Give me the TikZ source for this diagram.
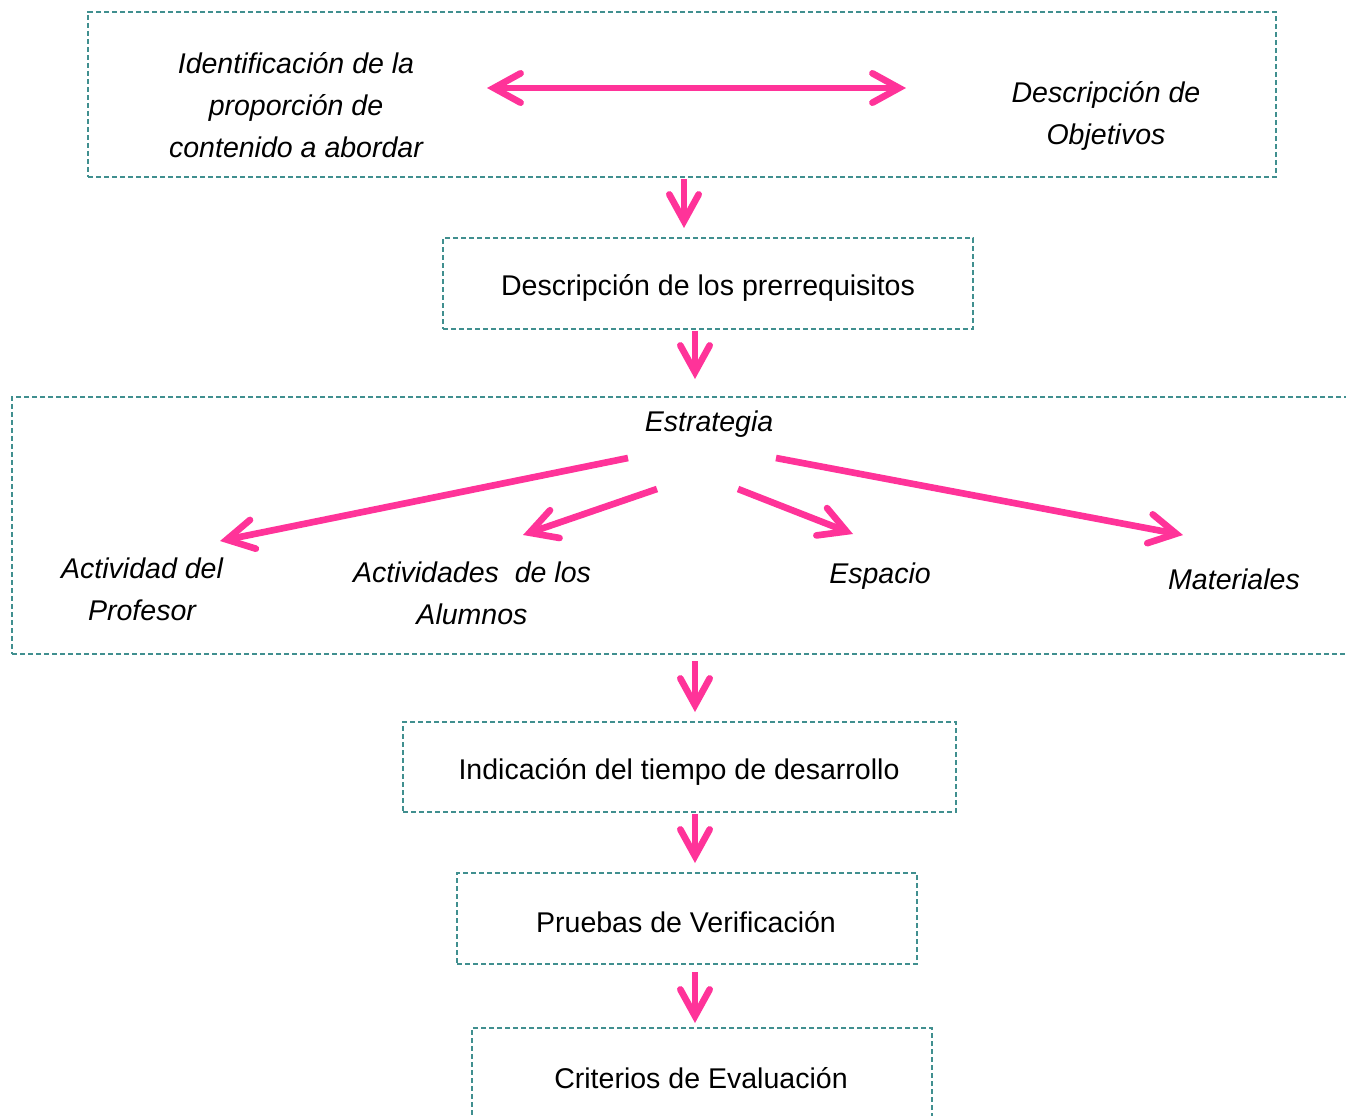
\documentclass[tikz,border=0pt]{standalone}
\usepackage{fontspec}
\setmainfont{Liberation Sans}
\usetikzlibrary{arrows.meta}
\definecolor{pinkarrow}{RGB}{255,51,153}
\definecolor{tealdash}{RGB}{64,143,143}
\tikzset{
  px/.style={x=0.75pt,y=-0.75pt},
  dbox/.style={draw=tealdash,line width=1.1pt,dash pattern=on 3.8pt off 2.2pt,inner sep=0pt},
  lbl/.style={font=\fontsize{21.4pt}{31.5pt}\selectfont,align=center,inner sep=0pt},
  ilbl/.style={lbl,font=\fontsize{21.4pt}{31.5pt}\selectfont\itshape},
  pinktip/.tip={Straight Barb[length=20pt,width=22pt,line cap=round,line join=miter]},
  parrow/.style={draw=pinkarrow,line width=5pt,-pinktip},
  pdarrow/.style={draw=pinkarrow,line width=5pt,pinktip-pinktip}
}
\begin{document}
\begin{tikzpicture}[px]
\useasboundingbox (0,0) rectangle (1346,1115);
\clip (0,0) rectangle (1346,1115);
% boxes
\node[dbox,minimum width=891pt,minimum height=123.75pt] (b1) at (682,94.5) {};
\node[dbox,minimum width=397.5pt,minimum height=68.25pt] (b2) at (708,283.5) {};
\node[dbox,minimum width=1011pt,minimum height=192.75pt] (b3) at (686,525.5) {};
\node[dbox,minimum width=414.75pt,minimum height=67.5pt] (b4) at (679.5,767) {};
\node[dbox,minimum width=345pt,minimum height=68.25pt] (b5) at (687,918.5) {};
\node[dbox,minimum width=345pt,minimum height=76.5pt] (b6) at (702,1079) {};
% texts
\node[ilbl] (t1) at (296,105) {Identificación de la\\proporción de\\contenido a abordar};
\node[ilbl] (t2) at (1106,115.5) {Descripción de\\Objetivos};
\node[lbl] (t3) at (708,288) {Descripción de los prerrequisitos};
\node[ilbl] (t4) at (709,424.5) {Estrategia};
\node[ilbl] (t5) at (142,589) {Actividad del\\Profesor};
\node[ilbl] (t6) at (472,593) {Actividades\ \ de los\\Alumnos};
\node[ilbl] (t7) at (880,576.5) {Espacio};
\node[ilbl] (t8) at (1234,579) {Materiales};
\node[lbl] (t9) at (679,772) {Indicación del tiempo de desarrollo};
\node[lbl] (t10) at (686,922) {Pruebas de Verificación};
\node[lbl] (t11) at (701,1078) {Criterios de Evaluación};
% connector endpoints
\coordinate (d1) at (487,88);
\coordinate (d2) at (906,88);
\coordinate (a1s) at (684,179);
\coordinate (a1e) at (684,228);
\coordinate (a2s) at (695,331);
\coordinate (a2e) at (695,379);
\coordinate (s1s) at (628,458);
\coordinate (s1e) at (220,541);
\coordinate (s2s) at (657,489);
\coordinate (s2e) at (523,535);
\coordinate (s3s) at (738,489);
\coordinate (s3e) at (853,534);
\coordinate (s4s) at (776,458);
\coordinate (s4e) at (1183,535);
\coordinate (a3s) at (695,661);
\coordinate (a3e) at (695,712);
\coordinate (a4s) at (695,814);
\coordinate (a4e) at (695,863);
\coordinate (a5s) at (695,972);
\coordinate (a5e) at (695,1023);
% arrows
\draw[pdarrow] (d1) -- (d2);
\draw[parrow] (a1s) -- (a1e);
\draw[parrow] (a2s) -- (a2e);
\draw[parrow] (s1s) -- (s1e);
\draw[parrow] (s2s) -- (s2e);
\draw[parrow] (s3s) -- (s3e);
\draw[parrow] (s4s) -- (s4e);
\draw[parrow] (a3s) -- (a3e);
\draw[parrow] (a4s) -- (a4e);
\draw[parrow] (a5s) -- (a5e);
\end{tikzpicture}
\end{document}
